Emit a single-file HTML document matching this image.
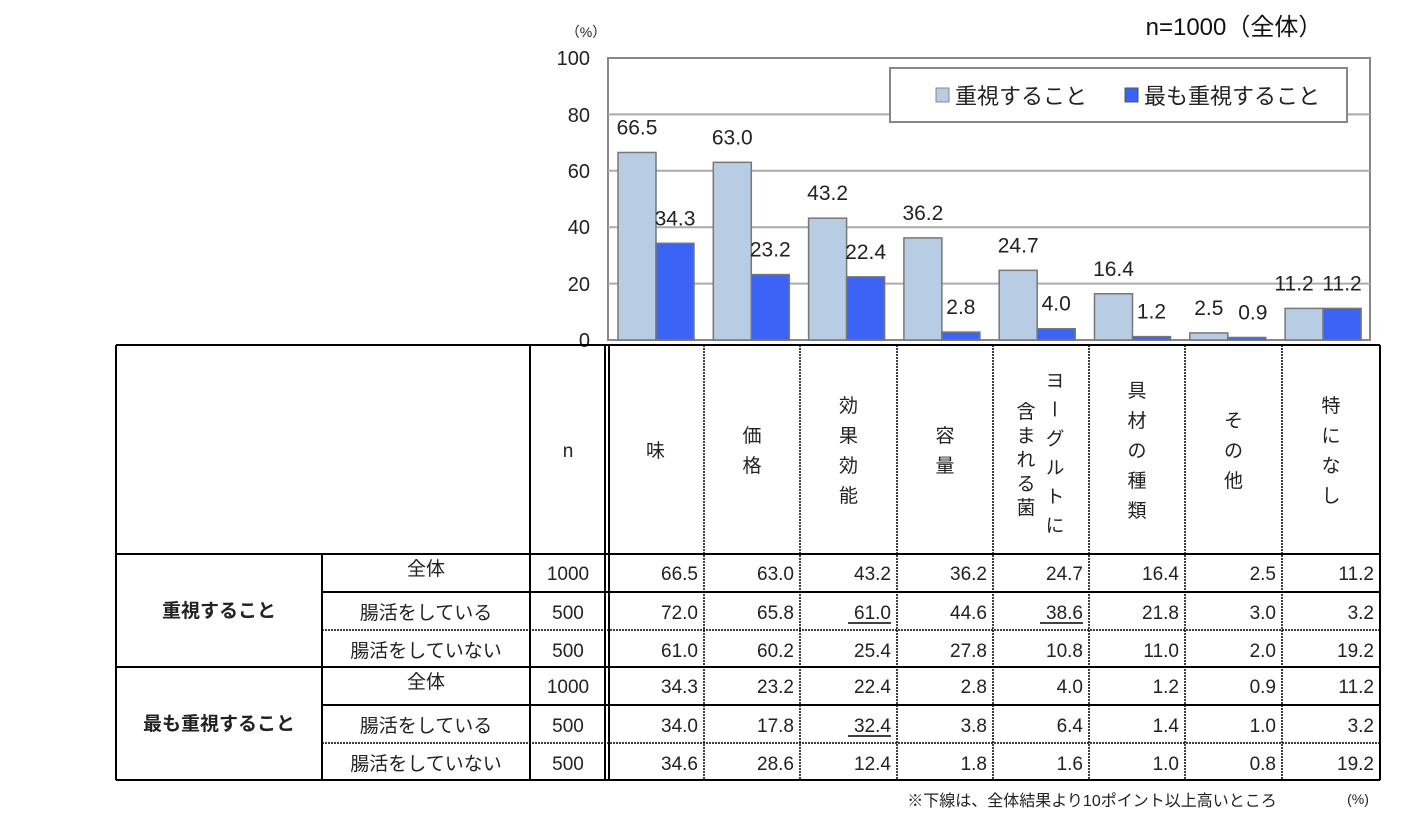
<!DOCTYPE html>
<html><head><meta charset="utf-8"><style>
body{margin:0;background:#fff;}
svg{display:block;font-family:"Liberation Sans","Noto Sans CJK JP",sans-serif;}
</style></head><body>
<svg width="1405" height="819" viewBox="0 0 1405 819">
<text x="1234" y="35" font-size="24" text-anchor="middle" fill="#111">n=1000（全体）</text>
<text x="586" y="37" font-size="14" text-anchor="middle" fill="#222">（%）</text>
<rect x="608" y="58" width="762" height="282" fill="#fff" stroke="#888" stroke-width="2"/>
<g stroke="#aaa" stroke-width="2">
<line x1="608" y1="114.4" x2="1370" y2="114.4"/><line x1="608" y1="170.8" x2="1370" y2="170.8"/>
<line x1="608" y1="227.2" x2="1370" y2="227.2"/><line x1="608" y1="283.6" x2="1370" y2="283.6"/>
</g>
<g font-size="20" fill="#222" text-anchor="end">
<text x="590" y="65">100</text><text x="590" y="122">80</text><text x="590" y="178">60</text>
<text x="590" y="234">40</text><text x="590" y="291">20</text><text x="590" y="347">0</text>
</g>
<rect x="890" y="68" width="457" height="54" fill="#fff" stroke="#888" stroke-width="2"/>
<rect x="936" y="88" width="13" height="14" fill="#b8cce4" stroke="#888"/>
<text x="955" y="104" font-size="22" fill="#222">重視すること</text>
<rect x="1125" y="88" width="13" height="14" fill="#3b63f5" stroke="#555"/>
<text x="1144" y="104" font-size="22" fill="#222">最も重視すること</text>
<g id="bars" font-size="21" fill="#222" text-anchor="middle"></g>
<g id="tbl"></g>
<text x="1092" y="806" font-size="16" text-anchor="middle" fill="#222">※下線は、全体結果より10ポイント以上高いところ</text>
<text x="1358" y="804" font-size="14" text-anchor="middle" fill="#222">(%)</text>
</svg>
<script>
const NS="http://www.w3.org/2000/svg";
function el(p,t,a,txt){const e=document.createElementNS(NS,t);for(const k in a)e.setAttribute(k,a[k]);if(txt!==undefined)e.textContent=txt;p.appendChild(e);return e;}
const A=[66.5,63,43.2,36.2,24.7,16.4,2.5,11.2],B=[34.3,23.2,22.4,2.8,4.0,1.2,0.9,11.2];
const g=document.getElementById('bars');
for(let i=0;i<8;i++){const x0=608+i*95.3+10;
 const ya=340-A[i]*2.82,yb=340-B[i]*2.82;
 el(g,'rect',{x:x0,y:ya,width:38,height:340-ya,fill:'#b8cce4',stroke:'#777','stroke-width':1.5});
 el(g,'rect',{x:x0+38,y:yb,width:38,height:340-yb,fill:'#3b63f5',stroke:'#777','stroke-width':1.5});
 el(g,'text',{x:x0+19-(i==7?10:0),y:ya-18},A[i].toFixed(1));
 el(g,'text',{x:x0+57+(i==6?6:0),y:yb-18},B[i].toFixed(1));
}
const t=document.getElementById('tbl');
const cols=[116,322,530,607,704,800,897,993,1089,1185,1282,1380];
const rows=[345,554,592,630,667,705,743,780];
const L=(x1,y1,x2,y2,w,d)=>el(t,'line',Object.assign({x1,y1,x2,y2,stroke:'#000','stroke-width':w||2},d?{'stroke-dasharray':'2,1','stroke-width':1.5}:{}));
L(116,345,1380,345);L(116,780,1380,780);L(116,554,1380,554);L(116,667,1380,667);
[592,705].forEach(y=>L(322,y,1380,y));[630,743].forEach(y=>L(322,y,1380,y,0,1));
L(116,345,116,780);L(1380,345,1380,780);L(322,554,322,780);L(530,345,530,780);
L(605,345,605,780);L(609,345,609,780);
for(let i=4;i<11;i++)L(cols[i],345,cols[i],780,0,1);
const T=(x,y,s,o)=>el(t,'text',Object.assign({x,y,'font-size':19,fill:'#222','text-anchor':'middle'},o||{}),s);
T(568,457,'n');
const heads=['味','価格','効果効能','容量',null,'具材の種類','その他','特になし'];
heads.forEach((h,i)=>{if(!h)return;const cx=(cols[i+3]+cols[i+4])/2;
 const n=h.length,sy=450-(n-1)*15;for(let k=0;k<n;k++)T(cx,sy+k*30+7,h[k]);});
'ヨーグルトに'.split('').forEach((c,k)=>T(1053,380+k*29,c,{'writing-mode':'tb'}));
'含まれる菌'.split('').forEach((c,k)=>T(1026,418+k*24,c));
T(219,617,'重視すること',{'font-weight':'bold'});T(219,730,'最も重視すること',{'font-weight':'bold'});
const lab=['全体','腸活をしている','腸活をしていない'];const ns=[1000,500,500];
const D=[[66.5,63.0,43.2,36.2,24.7,16.4,2.5,11.2],[72.0,65.8,61.0,44.6,38.6,21.8,3.0,3.2],[61.0,60.2,25.4,27.8,10.8,11.0,2.0,19.2],
[34.3,23.2,22.4,2.8,4.0,1.2,0.9,11.2],[34.0,17.8,32.4,3.8,6.4,1.4,1.0,3.2],[34.6,28.6,12.4,1.8,1.6,1.0,0.8,19.2]];
const U={'1,2':1,'1,4':1,'4,2':1};
for(let r=0;r<6;r++){const y=rows[r+1]+(r%3==0?26:27);
 T(426,y-(r%3==0?5:0),lab[r%3]);T(568,y,ns[r%3]);
 for(let c=0;c<8;c++){T(cols[c+4]-6,y,D[r][c].toFixed(1),{'text-anchor':'end'});
  if(U[r+','+c])L(cols[c+4]-49,y+4,cols[c+4]-6,y+4,1.5);}
}
</script>
</body></html>
